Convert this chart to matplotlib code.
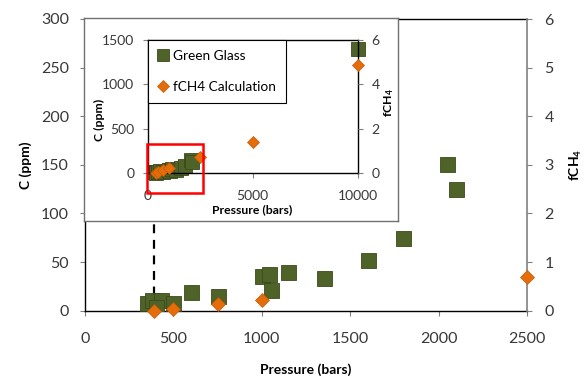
import numpy as np
import matplotlib
matplotlib.use('Agg')
import matplotlib.pyplot as plt
from matplotlib.patches import Rectangle

plt.rcParams['font.family'] = ['Lato', 'DejaVu Sans']
plt.rcParams['mathtext.default'] = 'regular'

# Green glass: pressure (bars) vs C (ppm)
gg_pressure = [350, 380, 430, 400, 500, 600, 750, 1000, 1040, 1050, 1150, 1350, 1600, 1800, 2050, 2100]
gg_carbon = [8, 11, 11, 4, 8, 19, 15, 36, 38, 21, 40, 34, 52, 75, 151, 125]
# only visible in the inset
gg_pressure_hi = [10000]
gg_carbon_hi = [1400]

# fCH4 calculation
fch4_pressure = [390, 500, 750, 1000, 2500, 5000, 10000]
fch4_value = [0.0, 0.03, 0.13, 0.23, 0.7, 1.4, 4.85]

dashed_x = 390
dashed_top = 89

main_xticks = [0, 500, 1000, 1500, 2000, 2500]
main_yticks = [0, 50, 100, 150, 200, 250, 300]
main_y2ticks = [0, 1, 2, 3, 4, 5, 6]
inset_xticks = [0, 5000, 10000]
inset_yticks = [0, 500, 1000, 1500]
inset_y2ticks = [0, 2, 4, 6]

green = '#4f6228'
green_edge = '#3b4a1c'
orange = '#e46c0a'
orange_edge = '#c55a05'
tick_txt = '#383838'

W, H = 584, 379
fig = plt.figure(figsize=(W / 100, H / 100), dpi=100)


def frac(x0, y0, x1, y1):
    # pixel box -> figure fraction [l, b, w, h]
    return [x0 / W, 1 - y1 / H, (x1 - x0) / W, (y1 - y0) / H]


# ---- main chart
ax = fig.add_axes(frac(85, 19, 527, 310.7))
ax.set_zorder(0)
ax.plot(gg_pressure, gg_carbon, ls='none', marker='s', ms=10.8, mfc=green, mec=green_edge, mew=0.6, zorder=3)
ax.plot([dashed_x, dashed_x], [0, dashed_top], ls=(0, (4, 3)), color='black', lw=1.6, zorder=2)
ax.set_xlim(0, 2500)
ax.set_ylim(0, 300)
ax.set_xticks(main_xticks)
ax.set_yticks(main_yticks)
ax.tick_params(axis='x', length=3.6, labelsize=11.5, pad=12, labelcolor=tick_txt)
ax.tick_params(axis='y', length=3.6, labelsize=11.5, pad=8, labelcolor=tick_txt)
for s in ['left', 'bottom', 'top']:
    ax.spines[s].set_color('black')
    ax.spines[s].set_linewidth(1.0)
ax.spines['right'].set_visible(False)
ax.tick_params(color='#808080')
ax.set_xlabel('Pressure (bars)', fontsize=10, fontweight='bold')
ax.set_ylabel('C (ppm)', fontsize=10, fontweight='bold')
ax.xaxis.set_label_coords(0.5, -0.18)
ax.yaxis.set_label_coords(-0.12, 0.5)

ax2 = ax.twinx()
ax2.set_zorder(1)
ax2.plot(fch4_pressure, fch4_value, ls='none', marker='D', ms=7, mfc=orange, mec=orange_edge, mew=0.5,
         clip_on=False, zorder=4)
ax2.set_ylim(0, 6)
ax2.set_yticks(main_y2ticks)
ax2.tick_params(axis='y', length=3.6, labelsize=11.5, pad=9, color='#808080', labelcolor=tick_txt)
ax2.spines['right'].set_color('#808080')
ax2.spines['right'].set_linewidth(1.2)
for s in ['left', 'bottom', 'top']:
    ax2.spines[s].set_visible(False)
ax2.set_ylabel('fCH$_4$', fontsize=10, fontweight='bold')
ax2.yaxis.set_label_coords(1.093, 0.5)

# ---- inset frame
box = fig.add_axes(frac(84, 18, 398, 221))
box.set_zorder(2)
box.set_xticks([])
box.set_yticks([])
for s in box.spines.values():
    s.set_color('#707070')
    s.set_linewidth(1.0)

# ---- inset chart
ins = fig.add_axes(frac(147.5, 40, 358, 173))
ins.set_zorder(3)
ins.plot(gg_pressure + gg_pressure_hi, gg_carbon + gg_carbon_hi, ls='none', marker='s', ms=10,
         mfc=green, mec=green_edge, mew=0.6, clip_on=False, label='Green Glass')
ins.set_xlim(0, 10000)
ins.set_ylim(0, 1500)
ins.set_xticks(inset_xticks)
ins.set_yticks(inset_yticks)
ins.tick_params(axis='x', length=3.6, labelsize=10, pad=9, color='#808080', labelcolor=tick_txt)
ins.tick_params(axis='y', length=3.6, labelsize=10, pad=6, color='#808080', labelcolor=tick_txt)
for s in ins.spines.values():
    s.set_color('black')
    s.set_linewidth(1.0)
ins.set_xlabel('Pressure (bars)', fontsize=8.8, fontweight='bold')
ins.set_ylabel('C (ppm)', fontsize=8.8, fontweight='bold')
ins.xaxis.set_label_coords(0.496, -0.235)
ins.yaxis.set_label_coords(-0.2, 0.4)

ins2 = ins.twinx()
ins2.set_zorder(4)
ins2.plot(fch4_pressure, fch4_value, ls='none', marker='D', ms=6.5, mfc=orange, mec=orange_edge, mew=0.5,
          clip_on=False, label='fCH4 Calculation')
ins2.set_ylim(0, 6)
ins2.set_yticks(inset_y2ticks)
ins2.tick_params(axis='y', length=3.6, labelsize=10, pad=6, color='#808080', labelcolor=tick_txt)
for s in ins2.spines.values():
    s.set_visible(False)
ins2.set_ylabel('fCH$_4$', fontsize=8.8, fontweight='bold')
ins2.yaxis.set_label_coords(1.114, 0.53)

# red zoom box
ins2.add_patch(Rectangle((-30, -0.9), 2670, 2.2, fill=False, edgecolor='#ff0000', lw=1.8,
                         clip_on=False, zorder=5))

h1, l1 = ins.get_legend_handles_labels()
h2, l2 = ins2.get_legend_handles_labels()
leg = ins2.legend(h1 + h2, l1 + l2, loc='upper left', bbox_to_anchor=(0, 1), borderaxespad=0,
                  fancybox=False, framealpha=1, edgecolor='black', fontsize=9.8, labelspacing=1.4,
                  handlelength=0.8, handletextpad=0.3, borderpad=0.75, markerscale=0.9)
leg.get_frame().set_linewidth(0.8)

fig.savefig('out.png', dpi=100)
